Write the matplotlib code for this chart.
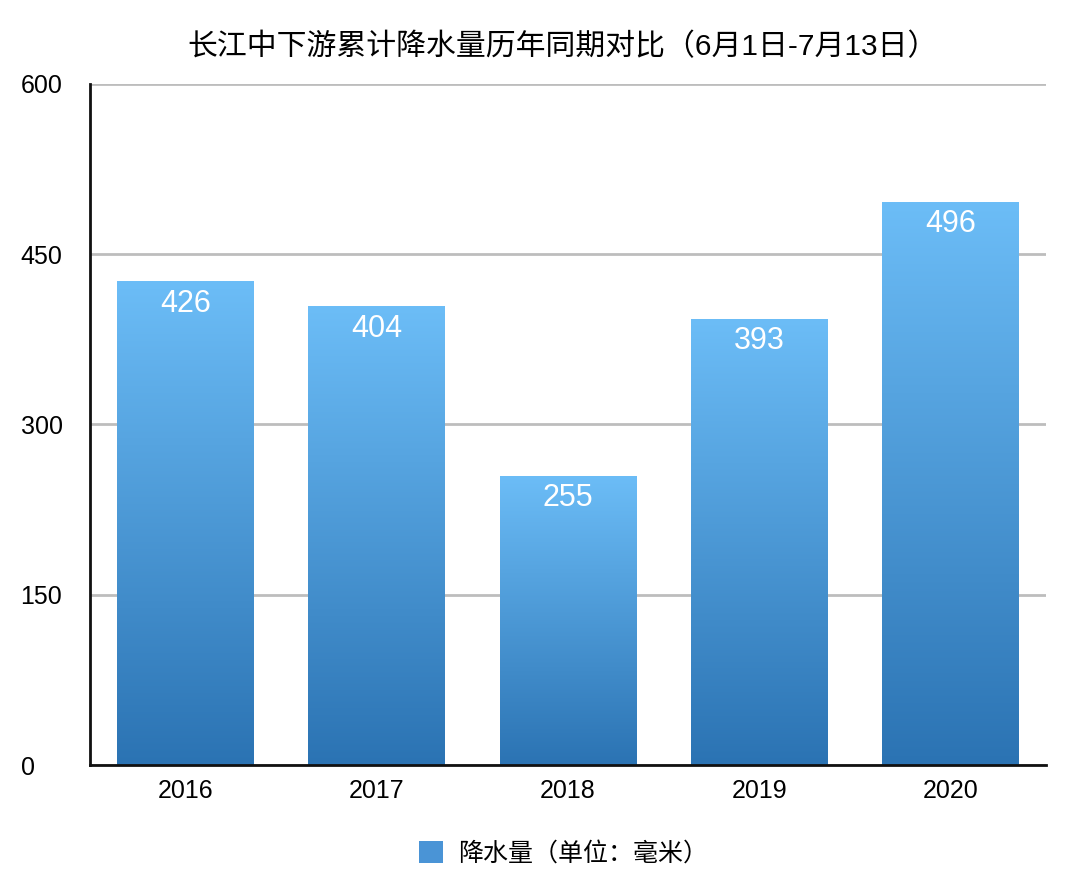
import numpy as np
import matplotlib.pyplot as plt
from matplotlib.colors import LinearSegmentedColormap
from matplotlib.patches import Patch

plt.rcParams['font.family'] = ['Liberation Sans', 'Noto Sans CJK SC', 'DejaVu Sans']

years = ['2016', '2017', '2018', '2019', '2020']
rain = [426, 404, 255, 393, 496]
title = '长江中下游累计降水量历年同期对比（6月1日-7月13日）'
legend_label = '降水量（单位：毫米）'

cmap = LinearSegmentedColormap.from_list('blu', ['#2B73B3', '#6CBDF7'])

fig = plt.figure(figsize=(10.86, 8.84), dpi=100)
ax = fig.add_axes([0.0829, 0.1346, 0.8801, 0.7704])

x = np.arange(len(years))
bars = ax.bar(x, rain, width=0.715, color='none', zorder=3)
grad = np.linspace(0, 1, 256).reshape(-1, 1)
for b, v in zip(bars, rain):
    x0, w = b.get_x(), b.get_width()
    im = ax.imshow(grad, extent=[x0, x0 + w, 0, v], origin='lower', cmap=cmap,
                   aspect='auto', zorder=3)
    im.set_clip_path(b)
    ax.annotate(str(v), (b.get_x() + w / 2, v), xytext=(0, -16), textcoords='offset points',
                ha='center', va='center', color='white', fontsize=22, zorder=4)

ax.set_xlim(-0.5, 4.5)
ax.set_ylim(0, 600)
ax.set_yticks([0, 150, 300, 450, 600])
ax.set_xticks(x)
ax.set_xticklabels(years)
ax.tick_params(length=0, labelsize=18)
ax.tick_params(axis='x', pad=10)
ax.tick_params(axis='y', pad=50)
for lab in ax.get_yticklabels():
    lab.set_horizontalalignment('left')
ax.yaxis.grid(True, color='#BDBDBD', linewidth=2, zorder=0)
ax.set_axisbelow(True)
for s in ['top', 'right']:
    ax.spines[s].set_visible(False)
for s in ['left', 'bottom']:
    ax.spines[s].set_linewidth(2)
    ax.spines[s].set_color('#111111')
    ax.spines[s].set_zorder(5)

fig.suptitle(title, x=0.518, y=0.963, fontsize=21.5)
fig.legend(handles=[Patch(facecolor='#4A94D6', label=legend_label)], loc='center',
           bbox_to_anchor=(0.519, 0.035), frameon=False, fontsize=18,
           handlelength=0.95, handleheight=1.0, handletextpad=0.6)

fig.savefig('out.png', dpi=100)
